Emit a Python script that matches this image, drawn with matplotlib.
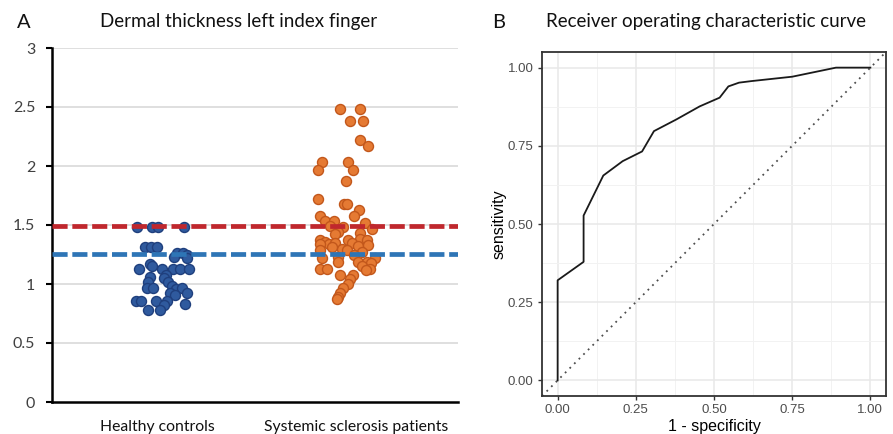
import matplotlib
matplotlib.use("Agg")
import matplotlib.pyplot as plt
import numpy as np

# ---------------- data ----------------
categories = ["Healthy controls", "Systemic sclerosis patients"]

healthy_x = [0.863, 0.945, 0.978, 1.120, 0.907, 0.940, 0.973, 1.082, 1.115, 1.137,
             1.066, 1.137, 0.934, 0.874, 0.945, 1.000, 1.060, 1.098, 1.148, 1.022,
             0.934, 1.011, 1.033, 0.923, 0.918, 0.951, 1.055, 1.077, 1.109, 1.044,
             1.071, 1.137, 0.858, 0.885, 0.967, 1.027, 1.011, 1.126, 0.923, 0.989]
healthy_y = [1.48, 1.48, 1.48, 1.48, 1.31, 1.31, 1.31, 1.26, 1.26, 1.25,
             1.23, 1.22, 1.17, 1.13, 1.15, 1.13, 1.13, 1.13, 1.13, 1.08,
             1.06, 1.05, 1.02, 1.02, 0.97, 0.97, 0.98, 0.96, 0.97, 0.92,
             0.91, 0.92, 0.86, 0.86, 0.86, 0.86, 0.82, 0.83, 0.78, 0.78]

ssc_x = [1.973, 2.082, 2.027, 2.098, 2.082, 2.126,
         1.874, 1.852, 2.016, 2.044, 2.005,
         1.852, 1.995, 2.011, 2.077, 2.049, 1.863,
         1.891, 1.940, 2.109, 1.918, 1.989, 2.148, 1.962, 2.082, 1.945,
         1.863, 1.891, 1.913, 2.016, 2.082, 2.120, 1.945, 1.863, 2.038,
         2.071, 2.126, 1.984, 1.929, 1.863, 2.011, 2.093,
         2.049, 1.962, 1.874, 2.164, 2.071, 2.120, 1.962, 2.142,
         1.863, 1.902, 2.093, 2.137, 2.115,
         1.973, 2.044, 2.027, 2.016, 1.989, 1.973, 1.962, 1.956]
ssc_y = [2.48, 2.48, 2.38, 2.38, 2.22, 2.17,
         2.03, 1.97, 2.03, 1.97, 1.87,
         1.72, 1.68, 1.68, 1.63, 1.58, 1.58,
         1.53, 1.53, 1.52, 1.49, 1.48, 1.47, 1.44, 1.43, 1.42,
         1.37, 1.36, 1.34, 1.37, 1.38, 1.37, 1.35, 1.34, 1.35,
         1.32, 1.33, 1.30, 1.31, 1.29, 1.29, 1.27,
         1.25, 1.23, 1.22, 1.22, 1.19, 1.19, 1.19, 1.18,
         1.13, 1.13, 1.15, 1.13, 1.12,
         1.08, 1.08, 1.04, 1.00, 0.97, 0.92, 0.89, 0.87]

cutoff_red = 1.49
cutoff_blue = 1.255
y_ticks = [0, 0.5, 1, 1.5, 2, 2.5, 3]

roc_fpr = [0, 0, 0.083, 0.083, 0.146, 0.208, 0.270, 0.308, 0.379, 0.454,
           0.518, 0.546, 0.58, 0.62, 0.75, 0.89, 1.0]
roc_tpr = [0, 0.32, 0.379, 0.527, 0.655, 0.701, 0.732, 0.797, 0.834, 0.876,
           0.904, 0.940, 0.952, 0.957, 0.971, 1.0, 1.0]
roc_ticks = [0, 0.25, 0.5, 0.75, 1.0]
roc_ticklabels = ["0.00", "0.25", "0.50", "0.75", "1.00"]

# ---------------- figure ----------------
W, H = 893, 434
fig = plt.figure(figsize=(W / 100, H / 100), dpi=100)
calib = ["Lato", "DejaVu Sans"]
arial = ["Liberation Sans", "DejaVu Sans"]

# ---- Panel A ----
axA = fig.add_axes([52 / W, 1 - 402 / H, 406 / W, 354 / H])
axA.set_xlim(0.40, 2.62)
axA.set_ylim(0, 3)
for t in y_ticks[1:]:
    axA.axhline(t, color="#D9D9D9", lw=1.2, zorder=0)
axA.scatter(healthy_x, healthy_y, s=52, facecolor="#2F5A9E", edgecolor="#1F3F7D",
            linewidths=1.0, zorder=3)
axA.scatter(ssc_x, ssc_y, s=52, facecolor="#E57A33", edgecolor="#C2571B",
            linewidths=1.0, zorder=3)
axA.axhline(cutoff_red, color="#C0272D", lw=3.4, dashes=(3.2, 1.0), zorder=4)
axA.axhline(cutoff_blue, color="#2E75B6", lw=3.4, dashes=(3.2, 1.0), zorder=4)
for s in ["top", "right"]:
    axA.spines[s].set_visible(False)
axA.spines["left"].set_linewidth(1.8)
axA.spines["bottom"].set_linewidth(1.8)
axA.set_yticks(y_ticks)
axA.set_yticklabels([f"{t:g}" for t in y_ticks], family=calib, fontsize=11.5,
                    color="#404040")
axA.tick_params(axis="y", direction="out", length=4, width=1.5, pad=8)
axA.set_xticks([0.975, 2.065])
axA.set_xticklabels(categories, family=calib, fontsize=11.3, color="#111111")
axA.tick_params(axis="x", length=0, pad=13)
fig.text(24 / W, 1 - 22 / H, "A", family=calib, fontsize=14.5, ha="center",
         va="center", color="#111111")
fig.text(239 / W, 1 - 22 / H, "Dermal thickness left index finger", family=calib,
         fontsize=13.5, ha="center", va="center", color="#111111")

# ---- Panel B ----
axB = fig.add_axes([542 / W, 1 - 396 / H, 344 / W, 344 / H])
axB.set_xlim(-0.05, 1.05)
axB.set_ylim(-0.05, 1.05)
axB.set_xticks(roc_ticks)
axB.set_yticks(roc_ticks)
axB.set_xticks([0.125, 0.375, 0.625, 0.875], minor=True)
axB.set_yticks([0.125, 0.375, 0.625, 0.875], minor=True)
axB.grid(which="major", color="#E8E8E8", lw=1.1)
axB.grid(which="minor", color="#F2F2F2", lw=0.7)
axB.set_axisbelow(True)
axB.plot([-0.05, 1.05], [-0.05, 1.05], color="#4D4D4D", lw=1.3,
         linestyle=(0, (1, 2.6)))
axB.plot(roc_fpr, roc_tpr, color="#1A1A1A", lw=1.3)
for s in axB.spines.values():
    s.set_color("#333333")
    s.set_linewidth(1.3)
axB.set_xticklabels(roc_ticklabels, family=arial, fontsize=9.5, color="#4D4D4D")
axB.set_yticklabels(roc_ticklabels, family=arial, fontsize=9.5, color="#4D4D4D")
axB.tick_params(which="major", direction="out", length=3, width=1.0, color="#333333",
                pad=3)
axB.tick_params(which="minor", length=0)
axB.set_xlabel("1 - specificity", family=arial, fontsize=11.5, labelpad=2)
axB.set_ylabel("sensitivity", family=arial, fontsize=11.5, labelpad=1)
fig.text(499 / W, 1 - 22 / H, "B", family=calib, fontsize=14.5, ha="center",
         va="center", color="#111111")
fig.text(706 / W, 1 - 22 / H, "Receiver operating characteristic curve",
         family=calib, fontsize=13.5, ha="center", va="center", color="#111111")

fig.savefig("out.png", dpi=100)
